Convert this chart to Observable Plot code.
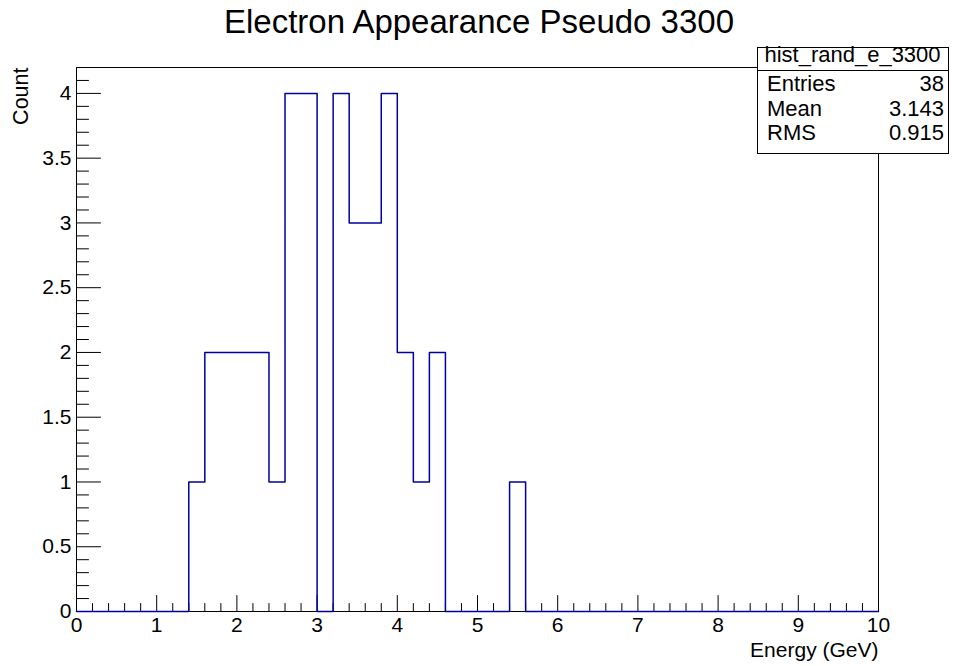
<!DOCTYPE html>
<html><head><meta charset="utf-8">
<script src="https://cdn.jsdelivr.net/npm/d3@7"></script>
<script src="https://cdn.jsdelivr.net/npm/@observablehq/plot@0.6"></script>
<style>
body{margin:0;background:#fff;}
#chart{position:relative;width:958px;height:666px;}
</style></head><body><div id="chart"></div>
<script>
const titleText = "Electron Appearance Pseudo 3300";
const xLabel = "Energy (GeV)";
const yLabel = "Count";
const xMin = 0, xMax = 10, binWidth = 0.2;
// counts per 0.2 GeV bin, from 0 to 10 GeV (50 bins)
const counts = [
  0,0,0,0,0, 0,0,1,2,2,
  2,2,1,4,4, 0,4,3,3,4,
  2,1,2,0,0, 0,0,1,0,0,
  0,0,0,0,0, 0,0,0,0,0,
  0,0,0,0,0, 0,0,0,0,0
];
const xTicks = [0,1,2,3,4,5,6,7,8,9,10];
const yTicks = [0,0.5,1,1.5,2,2.5,3,3.5,4];
const statsName = "hist_rand_e_3300";
const statsLabels = ["Entries","Mean","RMS"];
const statsValues = ["38","3.143","0.915"];

const font = "'Liberation Sans', Arial, Helvetica, sans-serif";
const steps = counts.map((c,i)=>({x: xMin + i*binWidth, y: c}));
steps.push({x: xMax, y: counts[counts.length-1]});
const xMinor = d3.range(0, 50).map(i => +(i*0.2).toFixed(1)).filter(v => !xTicks.includes(v));
const yMinor = d3.range(0, 42).map(i => +(i*0.1).toFixed(1)).filter(v => !yTicks.includes(v));
const tickShape = {draw(ctx, l){ ctx.moveTo(0,0); ctx.lineTo(0,-l); }};
const fmt = d3.format("~g");

const chart = Plot.plot({
  width: 958, height: 666,
  marginLeft: 76, marginRight: 80, marginTop: 67, marginBottom: 55,
  x: {domain: [xMin, xMax]},
  y: {domain: [0, 4.2]},
  style: {fontFamily: font, background: "white", color: "black"},
  marks: [
    Plot.frame({stroke: "black", strokeWidth: 1}),
    Plot.vector(xTicks, {x: d=>d, frameAnchor: "bottom", length: 16, rotate: 0, anchor: "start", shape: tickShape, stroke: "black", strokeWidth: 1}),
    Plot.vector(xMinor, {x: d=>d, frameAnchor: "bottom", length: 8, rotate: 0, anchor: "start", shape: tickShape, stroke: "black", strokeWidth: 1}),
    Plot.vector(yTicks, {y: d=>d, frameAnchor: "left", length: 24, rotate: 90, anchor: "start", shape: tickShape, stroke: "black", strokeWidth: 1}),
    Plot.vector(yMinor, {y: d=>d, frameAnchor: "left", length: 12, rotate: 90, anchor: "start", shape: tickShape, stroke: "black", strokeWidth: 1}),
    Plot.line(steps, {x: "x", y: "y", curve: "step-after", stroke: "#0000a0", strokeWidth: 1.5}),
    Plot.axisX({ticks: xTicks, tickSize: 0, tickPadding: 6, fontSize: 21, label: null, tickFormat: fmt}),
    Plot.axisY({ticks: yTicks, tickSize: 0, tickPadding: 5, fontSize: 21, label: null, tickFormat: fmt}),
    Plot.text([xLabel], {frameAnchor: "bottom-right", text: d=>d, textAnchor: "end", lineAnchor: "bottom", dy: 45, fontSize: 21, fill: "black"}),
    Plot.text([yLabel], {frameAnchor: "top-left", text: d=>d, rotate: -90, textAnchor: "end", lineAnchor: "bottom", dx: -49, fontSize: 21.5, fill: "black"}),
    Plot.text([titleText], {frameAnchor: "top", text: d=>d, lineAnchor: "bottom", dy: -35, dx: 1.5, fontSize: 33, fill: "black"})
  ]
});
document.getElementById("chart").appendChild(chart);

// stats box
const svg = d3.select(chart);
const bx = 757, by = 47, bw = 191, bh = 106, hh = 23;
const g = svg.append("g").attr("font-family", font).attr("font-size", 22).attr("fill", "black").attr("text-anchor", "start");
g.append("rect").attr("x", bx+0.5).attr("y", by+0.5).attr("width", bw).attr("height", bh)
  .attr("fill", "white").attr("stroke", "black").attr("stroke-width", 1);
g.append("line").attr("x1", bx).attr("x2", bx+bw).attr("y1", by+hh+0.5).attr("y2", by+hh+0.5).attr("stroke", "black");
g.append("text").attr("x", bx+bw/2).attr("y", 62).attr("text-anchor", "middle").text(statsName);
const rowY = [91, 116, 140];
statsLabels.forEach((l,i) => {
  g.append("text").attr("x", 767).attr("y", rowY[i]).attr("text-anchor", "start").text(l);
  g.append("text").attr("x", 944).attr("y", rowY[i]).attr("text-anchor", "end").text(statsValues[i]);
});
</script></body></html>
